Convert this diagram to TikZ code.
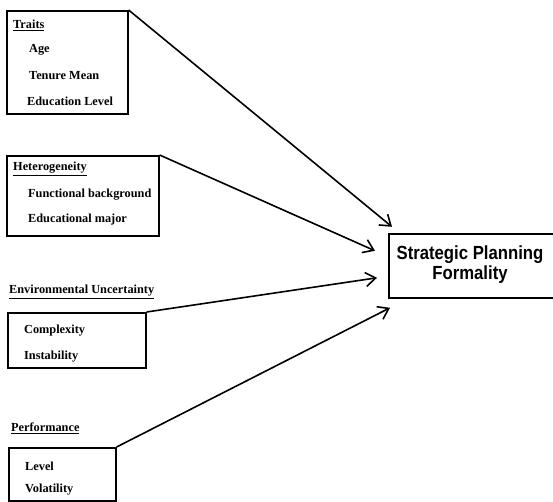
\documentclass[tikz,border=0pt]{standalone}
\usepackage{fontspec}
\setmainfont{Liberation Serif}
\newfontfamily\spffont[FakeStretch=0.88]{Liberation Sans}
\usetikzlibrary{arrows.meta}
\tikzset{
  box/.style={draw, line width=1.6pt, anchor=north west, inner sep=0pt},
  item/.style={anchor=west, inner sep=0pt, font=\bfseries\fontsize{12.3}{14}\selectfont},
}

\begin{document}
\begin{tikzpicture}[x=1pt,y=-1pt]
\useasboundingbox (0,0) rectangle (553,502);
\clip (0,0) rectangle (553,502);
\node[box, minimum width=121pt, minimum height=103pt] (tr) at (6,10) {};
\node[item] (tr0) at (13,25) {\underline{Traits}};
\node[item] (tr1) at (29,50) {Age};
\node[item] (tr2) at (29,76) {Tenure Mean};
\node[item] (tr3) at (27,101) {Education Level};
\node[box, minimum width=152pt, minimum height=80pt] (ht) at (6,155) {};
\node[item] (ht0) at (13,169) {\underline{Heterogeneity}};
\node[item] (ht1) at (28,195) {Functional background};
\node[item] (ht2) at (28,220) {Educational major};
\node[item] (eu0) at (9,292) {\underline{Environmental Uncertainty}};
\node[box, minimum width=138pt, minimum height=55pt] (eu) at (7,312) {};
\node[item] (eu1) at (24,331) {Complexity};
\node[item] (eu2) at (24,357) {Instability};
\node[item] (pf0) at (11,428) {\underline{Performance}};
\node[box, minimum width=107pt, minimum height=53pt] (pf) at (8,447) {};
\node[item] (pf1) at (25,466) {Level};
\node[item] (pf2) at (25,490) {Volatility};
\node[box, minimum width=200pt, minimum height=64pt] (spf) at (388,233) {};
\node[align=center, inner sep=0pt, font=\spffont\bfseries\fontsize{19}{20}\selectfont]
  (spft) at (470,265) {Strategic Planning\\Formality};
\path[-{Straight Barb[length=10pt,width=14pt]}, line width=1.6pt]
(tr.north east) edge ([xshift=4pt,yshift=39pt]spf.west)
(ht.north east) edge ([xshift=-13pt,yshift=15pt]spf.west)
(eu.north east) edge ([xshift=-11pt,yshift=-12pt]spf.west)
(pf.north east) edge ([xshift=2pt,yshift=-42pt]spf.west)
;
\end{tikzpicture}
\end{document}
